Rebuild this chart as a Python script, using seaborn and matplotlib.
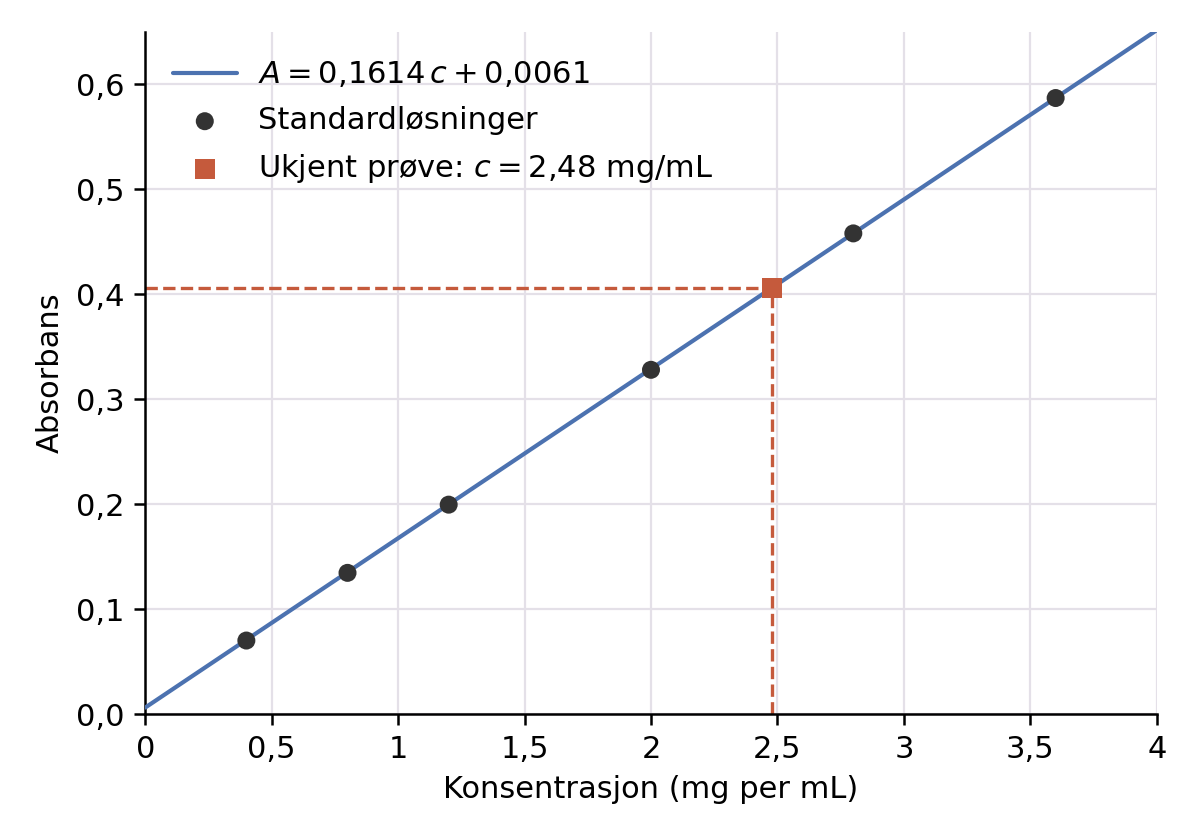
#!/usr/bin/env python3
"""Standard curve (absorbans vs konsentrasjon) with unknown sample read-off."""

import matplotlib.pyplot as plt
import matplotlib.ticker as mticker
import numpy as np
import pandas as pd
import seaborn as sns

# standard solutions
conc_std = [0.4, 0.8, 1.2, 2.0, 2.8, 3.6]
abs_std = [0.070, 0.1345, 0.1995, 0.328, 0.458, 0.587]

# fitted line A = slope * c + intercept
slope = 0.1614
intercept = 0.0061
fit_range = [0.0, 4.0]

# unknown sample
conc_unknown = 2.48

BLUE = "#4c72b0"
RED = "#c55a3c"
DARK = "#333333"

sns.set_theme(style="ticks", context="notebook")
plt.rcParams["font.family"] = ["DejaVu Sans"]
plt.rcParams["mathtext.fontset"] = "dejavusans"
plt.rcParams["text.color"] = "black"
plt.rcParams["axes.labelcolor"] = "black"
plt.rcParams["xtick.color"] = "black"
plt.rcParams["ytick.color"] = "black"


def comma_fmt(decimals=None):
    def f(v, _pos):
        s = f"{v:.{decimals}f}" if decimals is not None else f"{v:g}"
        return s.replace(".", ",")
    return mticker.FuncFormatter(f)


def main() -> None:
    fit_x = np.array(fit_range)
    fit = pd.DataFrame({"c": fit_x, "A": slope * fit_x + intercept})
    std = pd.DataFrame({"c": conc_std, "A": abs_std})
    abs_unknown = slope * conc_unknown + intercept

    fig, ax = plt.subplots(figsize=(6, 4.2), dpi=200)
    fig.subplots_adjust(left=0.121, right=0.964, top=0.962, bottom=0.15)

    ax.plot([0, conc_unknown], [abs_unknown, abs_unknown], color=RED,
            linestyle="--", linewidth=1.2, zorder=2)
    ax.plot([conc_unknown, conc_unknown], [0, abs_unknown], color=RED,
            linestyle="--", linewidth=1.2, zorder=2)

    sns.lineplot(data=fit, x="c", y="A", ax=ax, color=BLUE, linewidth=1.5,
                 label=r"$A = 0{,}1614\,c + 0{,}0061$", zorder=3)
    sns.scatterplot(data=std, x="c", y="A", ax=ax, color=DARK, s=42,
                    edgecolor="none", label="Standardløsninger", zorder=4)
    ax.scatter([conc_unknown], [abs_unknown], marker="s", s=52, color=RED,
               edgecolor="none", label=r"Ukjent prøve: $c = 2{,}48$ mg/mL",
               zorder=5)

    ax.set_xlim(0, 4)
    ax.set_ylim(0, 0.65)
    ax.xaxis.set_major_locator(mticker.MultipleLocator(0.5))
    ax.yaxis.set_major_locator(mticker.MultipleLocator(0.1))
    ax.xaxis.set_major_formatter(comma_fmt())
    ax.yaxis.set_major_formatter(comma_fmt(1))
    ax.tick_params(labelsize=11, length=4, width=0.9, color="black")

    ax.grid(True, color="#e4e0e8", linewidth=0.8)
    ax.set_axisbelow(True)
    sns.despine(ax=ax)
    for sp in ("left", "bottom"):
        ax.spines[sp].set_color("black")
        ax.spines[sp].set_linewidth(0.9)

    ax.set_xlabel("Konsentrasjon (mg per mL)", fontsize=11)
    ax.set_ylabel("Absorbans", fontsize=11)

    ax.legend(loc="upper left", frameon=False, fontsize=11, handlelength=2.1,
              handletextpad=0.68, labelspacing=0.55, borderaxespad=0.5)

    fig.savefig("out.png", dpi=200)
    plt.close(fig)


if __name__ == "__main__":
    main()
